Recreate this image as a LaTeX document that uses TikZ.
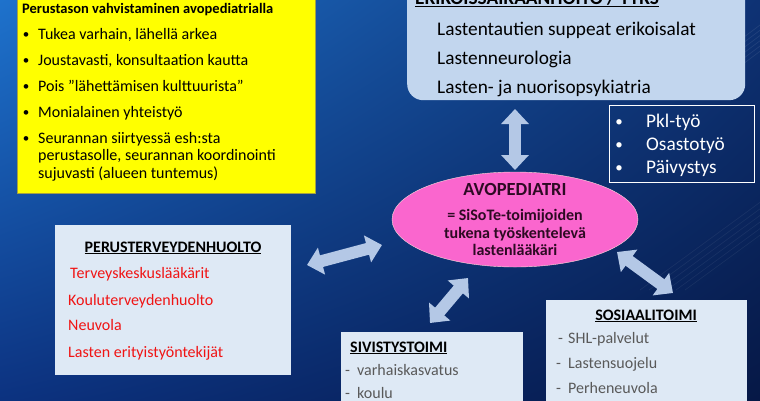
\documentclass[tikz,border=0pt]{standalone}
\usepackage{fontspec}
\setmainfont{Carlito}
\usepackage{tikz}
\usetikzlibrary{arrows.meta}
\usetikzlibrary{shapes.geometric}
\usetikzlibrary{shadings}
\usetikzlibrary{positioning}
\definecolor{bgtl}{RGB}{30,114,204}
\definecolor{bgtr}{RGB}{14,50,116}
\definecolor{bgbl}{RGB}{12,50,128}
\definecolor{bgbr}{RGB}{6,24,70}
\definecolor{ylw}{RGB}{255,255,0}
\definecolor{tyks}{RGB}{194,214,238}
\definecolor{pale}{RGB}{222,233,245}
\definecolor{pinkfill}{RGB}{250,102,206}
\definecolor{arrowblue}{RGB}{180,200,230}
\definecolor{redtxt}{RGB}{240,20,20}
\definecolor{graytxt}{RGB}{89,89,89}
\definecolor{darktxt}{RGB}{45,10,35}

\begin{document}
\begin{tikzpicture}[x=1pt,y=-1pt]
	\useasboundingbox (0,0) rectangle (760,400);
	\shade[upper left=bgtl, upper right=bgtr, lower left=bgbl, lower right=bgbr] (0,0) rectangle (760,400);
	\foreach \i in {0,...,5} {
		\draw[white, opacity=0.08, line width=0.7pt] (700+\i*7,70) -- ++(80,-60);
		\draw[white, opacity=0.06, line width=0.7pt] (640+\i*9,290) -- ++(130,-95);
	}

	% boxes
	\begin{scope}[every node/.style={rectangle, inner sep=0pt, anchor=north west}]
		\node[fill=ylw, draw=yellow!60!black, minimum width=298pt, minimum height=198pt] (perus) at (17,-5) {};
		\node[fill=tyks, rounded corners=16pt, minimum width=338pt, minimum height=125pt] (esh) at (407,-25) {};
		\node[draw=white, line width=1pt, minimum width=145pt, minimum height=77pt] (pkl) at (609,105) {};
		\node[ellipse, fill=pinkfill, draw=pink!60!white, minimum width=246pt, minimum height=95pt, anchor=center] (avo) at (515,219.5) {};
		\node[fill=pale, minimum width=236pt, minimum height=150pt] (tk) at (55,225) {};
		\node[fill=pale, minimum width=182pt, minimum height=80pt] (sivis) at (341,332) {};
		\node[fill=pale, minimum width=201pt, minimum height=110pt] (sos) at (546,300) {};
	\end{scope}

	% texts
	\begin{scope}[every node/.style={inner sep=0pt, anchor=base west},
	              ytext/.style={font=\fontsize{16}{18}\selectfont},
	              ybullet/.style={font=\fontsize{13}{15}\selectfont, anchor=base},
	              etext/.style={font=\fontsize{19.3}{22}\selectfont},
	              rtext/.style={font=\fontsize{16}{18}\selectfont, text=redtxt},
	              gtext/.style={font=\fontsize{16}{18}\selectfont, text=graytxt},
	              head/.style={font=\bfseries\fontsize{16}{18}\selectfont, anchor=base}]
		\node[font=\bfseries\fontsize{14.5}{16}\selectfont] (perush) at (22,13) {Perustason vahvistaminen avopediatrialla};
		\node[ybullet] (pb1) at (26,38) {\textbullet};
		\node[ytext] (p1) at (38,39) {Tukea varhain, lähellä arkea};
		\node[ybullet] (pb2) at (26,64) {\textbullet};
		\node[ytext] (p2) at (38,65) {Joustavasti, konsultaation kautta};
		\node[ybullet] (pb3) at (26,90) {\textbullet};
		\node[ytext] (p3) at (38,91) {Pois ”lähettämisen kulttuurista”};
		\node[ybullet] (pb4) at (26,116) {\textbullet};
		\node[ytext] (p4) at (38,117) {Monialainen yhteistyö};
		\node[ybullet] (pb5) at (26,142) {\textbullet};
		\node[ytext] (p5) at (38,143) {Seurannan siirtyessä esh:sta};
		\node[ytext] (p6) at (38,160) {perustasolle, seurannan koordinointi};
		\node[ytext] (p7) at (38,178) {sujuvasti (alueen tuntemus)};

		\node[font=\bfseries\fontsize{19.3}{22}\selectfont] (eshh) at (415,4) {\underline{ERIKOISSAIRAANHOITO / TYKS}};
		\node[etext] (e1) at (437,35) {Lastentautien suppeat erikoisalat};
		\node[etext] (e2) at (437,64) {Lastenneurologia};
		\node[etext] (e3) at (437,93) {Lasten- ja nuorisopsykiatria};

		\node[ybullet, font=\fontsize{15}{17}\selectfont, text=white] (kb1) at (619,126) {\textbullet};
		\node[etext, text=white] (k1) at (646,127) {Pkl-työ};
		\node[ybullet, font=\fontsize{15}{17}\selectfont, text=white] (kb2) at (619,149) {\textbullet};
		\node[etext, text=white] (k2) at (646,150) {Osastotyö};
		\node[ybullet, font=\fontsize{15}{17}\selectfont, text=white] (kb3) at (619,172) {\textbullet};
		\node[etext, text=white] (k3) at (646,173) {Päivystys};

		\node[head, font=\bfseries\fontsize{18.5}{20}\selectfont, text=darktxt] (avoh) at (515,195) {AVOPEDIATRI};
		\node[head, text=darktxt] (a1) at (515,220) {= SiSoTe-toimijoiden};
		\node[head, text=darktxt] (a2) at (515,238) {tukena työskentelevä};
		\node[head, text=darktxt] (a3) at (515,255) {lastenlääkäri};

		\node[head] (tkh) at (173,252) {\underline{PERUSTERVEYDENHUOLTO}};
		\node[rtext] (t1) at (70,278) {Terveyskeskuslääkärit};
		\node[rtext] (t2) at (68,305) {Kouluterveydenhuolto};
		\node[rtext] (t3) at (68,330) {Neuvola};
		\node[rtext] (t4) at (68,357) {Lasten erityistyöntekijät};

		\node[head, anchor=base west] (sivh) at (350,352) {\underline{SIVISTYSTOIMI}};
		\node[gtext] (sd1) at (345,375) {-};
		\node[gtext] (s1) at (357,375) {varhaiskasvatus};
		\node[gtext] (sd2) at (345,398) {-};
		\node[gtext] (s2) at (357,398) {koulu};

		\node[head] (sosh) at (646,320) {\underline{SOSIAALITOIMI}};
		\node[gtext] (od1) at (558,343) {-};
		\node[gtext] (o1) at (568,343) {SHL-palvelut};
		\node[gtext] (od2) at (556,368) {-};
		\node[gtext] (o2) at (568,368) {Lastensuojelu};
		\node[gtext] (od3) at (556,393) {-};
		\node[gtext] (o3) at (568,393) {Perheneuvola};
	\end{scope}

	% arrow ends
	\coordinate (eshS) at (515,109);
	\coordinate (avoN) at (515,170);
	\coordinate (tkE) at (307,265);
	\coordinate (avoW) at (382,245);
	\coordinate (avoSW) at (468,278);
	\coordinate (sivisN) at (430,323);
	\coordinate (avoSE) at (617,252);
	\coordinate (sosN) at (673,293);

	\begin{scope}[>={Triangle[width=27pt,length=15pt]},
	              every edge/.style={draw=arrowblue, line width=12pt, <->}]
		\path (eshS) edge (avoN);
		\path (tkE) edge (avoW);
		\path (avoSW) edge (sivisN);
		\path (avoSE) edge (sosN);
	\end{scope}
\end{tikzpicture}
\end{document}
